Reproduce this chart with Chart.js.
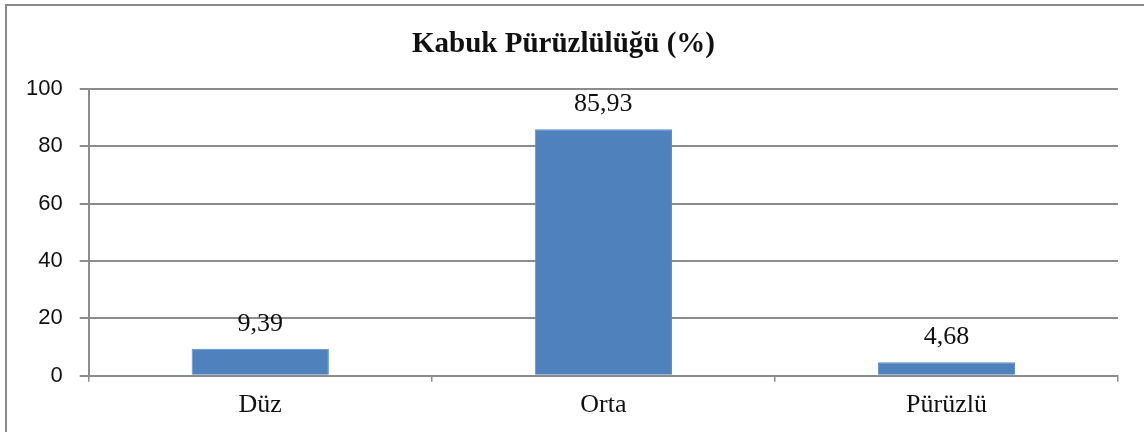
<!DOCTYPE html>
<html lang="tr">
<head>
    <meta charset="UTF-8">
    <title>Kabuk Pürüzlülüğü</title>
    <script src="https://cdnjs.cloudflare.com/ajax/libs/Chart.js/4.4.1/chart.umd.min.js"></script>
    <style>
        body { margin: 0; padding: 0; background: #fff; overflow: hidden; }
        .frame {
            position: absolute;
            left: 5px;
            top: 4px;
            width: 1200px;
            height: 500px;
            border-left: 2px solid #8a8a8a;
            border-top: 2px solid #8a8a8a;
        }
        .chart-container {
            position: absolute;
            left: 0;
            top: 0;
            width: 1144px;
            height: 432px;
        }
    </style>
</head>
<body>
    <div class="frame"></div>
    <div class="chart-container">
        <canvas id="kabukChart"></canvas>
    </div>

    <script>
        const categories = ['Düz', 'Orta', 'Pürüzlü'];
        const values = [9.39, 85.93, 4.68];
        const yTicks = [0, 20, 40, 60, 80, 100];

        const gridColor = '#8c8c8c';
        const serif = '"Liberation Serif", "Times New Roman", serif';

        // draws the value above each bar, with a comma as decimal mark
        const valueLabels = {
            id: 'valueLabels',
            afterDatasetsDraw(chart) {
                const ctx = chart.ctx;
                const meta = chart.getDatasetMeta(0);
                ctx.save();
                ctx.font = '26px ' + serif;
                ctx.fillStyle = '#111';
                ctx.textAlign = 'center';
                ctx.textBaseline = 'middle';
                meta.data.forEach((bar, i) => {
                    const text = values[i].toFixed(2).replace('.', ',');
                    ctx.fillText(text, bar.x, bar.y - 25);
                });
                ctx.restore();
            }
        };

        new Chart(document.getElementById('kabukChart'), {
            type: 'bar',
            data: {
                labels: categories,
                datasets: [{
                    data: values,
                    backgroundColor: '#4F81BD',
                    borderColor: '#5a8cc8',
                    borderWidth: 1,
                    categoryPercentage: 1,
                    barPercentage: 0.4
                }]
            },
            options: {
                responsive: true,
                maintainAspectRatio: false,
                animation: false,
                layout: {
                    padding: { left: 9, right: 26, top: 0, bottom: 3 }
                },
                plugins: {
                    legend: { display: false },
                    tooltip: { enabled: false },
                    title: {
                        display: true,
                        text: 'Kabuk Pürüzlülüğü (%)',
                        color: '#111',
                        font: { family: serif, size: 29, weight: 'bold' },
                        padding: { top: 27, bottom: 27 }
                    }
                },
                scales: {
                    x: {
                        offset: true,
                        grid: {
                            offset: true,
                            drawOnChartArea: false,
                            drawTicks: true,
                            tickLength: 6,
                            color: gridColor,
                            lineWidth: 1.5
                        },
                        border: { color: gridColor, width: 2 },
                        ticks: {
                            color: '#111',
                            padding: 8,
                            font: { family: serif, size: 26 }
                        }
                    },
                    y: {
                        min: 0,
                        max: 100,
                        afterBuildTicks(axis) {
                            axis.ticks = yTicks.map(v => ({ value: v }));
                        },
                        grid: {
                            color: gridColor,
                            lineWidth: 2,
                            tickLength: 9
                        },
                        border: { color: gridColor, width: 2 },
                        ticks: {
                            color: '#111',
                            padding: 17,
                            font: { family: '"Liberation Sans", Arial, sans-serif', size: 22 }
                        }
                    }
                }
            },
            plugins: [valueLabels]
        });
    </script>
</body>
</html>
